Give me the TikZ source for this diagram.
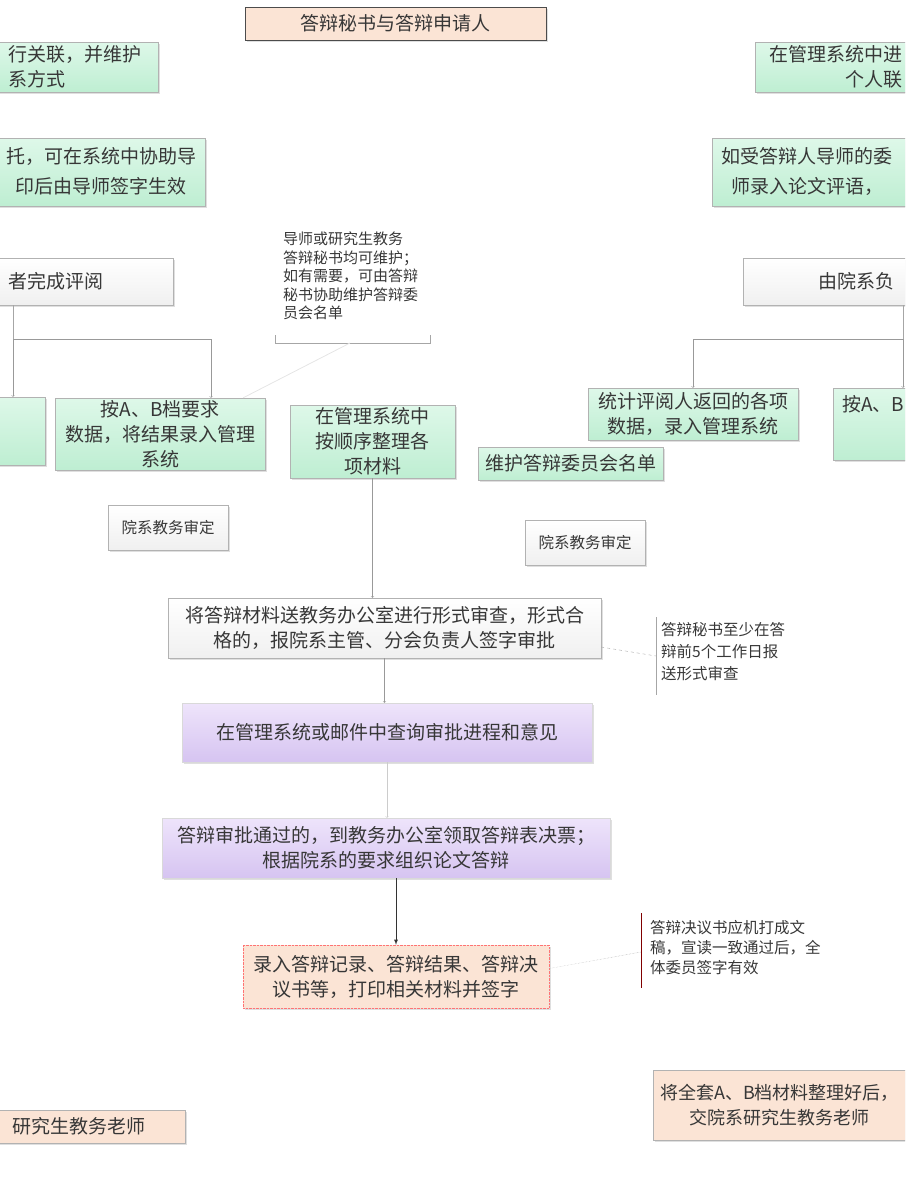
\documentclass[tikz,border=0pt]{standalone}
\usepackage{fontspec}
\newfontfamily\cjk{Noto Sans CJK SC}
\usetikzlibrary{shadows}

\definecolor{peach}{RGB}{251,228,213}
\definecolor{mintlight}{RGB}{222,248,233}
\definecolor{mint}{RGB}{190,238,210}
\definecolor{lilac}{RGB}{238,228,251}
\definecolor{lilacdark}{RGB}{214,196,241}
\definecolor{txt}{RGB}{55,55,55}

\tikzset{
    box/.style={draw=gray!60, text=txt, align=center, inner sep=2pt,
        font=\cjk\fontsize{19}{25}\selectfont,
        drop shadow={opacity=0.25, shadow xshift=2pt, shadow yshift=-2pt}},
    peachbox/.style={box, fill=peach},
    greenbox/.style={box, top color=mintlight, bottom color=mint},
    whitebox/.style={box, top color=white, bottom color=gray!12},
    lilacbox/.style={box, draw=gray!30, top color=lilac, bottom color=lilacdark},
    sidetext/.style={text=txt, inner sep=0pt, font=\cjk\fontsize{19}{25}\selectfont},
    notetext/.style={text=txt, align=left, anchor=north west, inner sep=0pt},
    arr/.style={->, draw=gray!80},
    link/.style={draw=gray!70}
}

\begin{document}
\begin{tikzpicture}[x=1pt, y=-1pt]
            \useasboundingbox (0, 0) rectangle (905, 1194);
            \clip (0, 0) rectangle (905, 1194);

            % top
            \node[peachbox, draw=black!70, minimum width=301, minimum height=33] (apply) at (395.5, 23.5) {答辩秘书与答辩申请人};
            \node[greenbox, minimum width=298, minimum height=50] (linkL) at (9, 67) {};
            \node[sidetext, anchor=west, align=left] (linkLt) at (8, 67) {行关联，并维护\\系方式};
            \node[greenbox, minimum width=298, minimum height=50] (linkR) at (904, 67) {};
            \node[sidetext, anchor=east, align=right] (linkRt) at (903, 67) {在管理系统中进\\个人联};
            \node[greenbox, minimum width=390, minimum height=68] (helpL) at (10, 172) {};
            \node[sidetext, align=center, font=\cjk\fontsize{19}{30}\selectfont] (helpLt) at (101, 171) {托，可在系统中协助导\\印后由导师签字生效};
            \node[greenbox, minimum width=390, minimum height=68] (helpR) at (907, 172) {};
            \node[sidetext, align=center, font=\cjk\fontsize{19}{30}\selectfont] (helpRt) at (807, 171) {如受答辩人导师的委\\师录入论文评语，};

            % review
            \node[whitebox, minimum width=320, minimum height=47] (revL) at (13, 281.5) {};
            \node[sidetext, anchor=west] (revLt) at (8, 281.5) {者完成评阅};
            \node[whitebox, minimum width=320, minimum height=47] (revR) at (903, 281.5) {};
            \node[sidetext, anchor=west] (revRt) at (818, 281.5) {由院系负};

            \node[notetext, font=\cjk\fontsize{15}{18.5}\selectfont] (noteC) at (283, 232) {导师或研究生教务\\答辩秘书均可维护；\\如有需要，可由答辩\\秘书协助维护答辩委\\员会名单};
            \draw[link] (275, 335) -- (275, 343) -- (430, 343) -- (430, 335);
            \coordinate (brkC) at (350, 343);

            % materials
            \node[greenbox, minimum width=205, minimum height=68] (statL) at (-57.5, 431) {};
            \node[greenbox, minimum width=210, minimum height=72] (gradeL) at (160, 434) {按A、B档要求\\数据，将结果录入管理\\系统};
            \node[greenbox, minimum width=165, minimum height=73] (sort) at (372.5, 441.5) {在管理系统中\\按顺序整理各\\项材料};
            \node[greenbox, minimum width=185, minimum height=33] (board) at (570.5, 463.5) {维护答辩委员会名单};
            \node[greenbox, minimum width=210, minimum height=52] (statR) at (693, 414) {统计评阅人返回的各项\\数据，录入管理系统};
            \node[greenbox, minimum width=210, minimum height=72] (gradeR) at (938, 424) {};
            \node[sidetext, anchor=west] (gradeRt) at (842, 404) {按A、B};

            \draw[link] (revL.south) -- ++(0, 34) coordinate (jL);
            \draw[arr] (jL) -- (jL |- statL.north);
            \draw[arr] (jL) -| ([xshift=51pt]gradeL.north);
            \draw[link] (revR.south) -- ++(0, 34) coordinate (jR);
            \draw[arr] (jR) -| (statR.north);
            \draw[arr] (jR) -- (jR |- gradeR.north);
            \draw[link, thick, draw=gray!20] (brkC) -- ([xshift=-22pt]gradeL.north east);

            \node[whitebox, font=\cjk\fontsize{15.5}{19}\selectfont, minimum width=120, minimum height=45] (checkL) at (168, 527.5) {院系教务审定};
            \node[whitebox, font=\cjk\fontsize{15.5}{19}\selectfont, minimum width=120, minimum height=45] (checkR) at (585, 542.5) {院系教务审定};

            % formal review
            \node[whitebox, minimum width=433, minimum height=60] (formal) at (384.5, 628) {将答辩材料送教务办公室进行形式审查，形式合\\格的，报院系主管、分会负责人签字审批};
            \draw[arr] (sort.south) -- (sort.south |- formal.north);

            \node[notetext, font=\cjk\fontsize{15.5}{22}\selectfont] (noteF) at (661, 622) {答辩秘书至少在答\\辩前5个工作日报\\送形式审查};
            \draw[link] (656, 617) -- (656, 695);
            \coordinate (brkF) at (656, 656);
            \draw[link, dashed] ([yshift=-19pt]formal.east) -- (brkF);

            \node[lilacbox, minimum width=410, minimum height=59] (query) at (387, 732.5) {在管理系统或邮件中查询审批进程和意见};
            \draw[arr] (formal.south) -- (formal.south |- query.north);

            \node[lilacbox, minimum width=448, minimum height=60] (ballot) at (386, 848) {答辩审批通过的，到教务办公室领取答辩表决票；\\根据院系的要求组织论文答辩};
            \draw[arr, draw=gray!40] (query.south) -- (query.south |- ballot.north);

            % defence
            \node[peachbox, draw=red!55, densely dotted, minimum width=306, minimum height=63] (record) at (396, 976.5) {录入答辩记录、答辩结果、答辩决\\议书等，打印相关材料并签字};
            \draw[-latex, thick, draw=black!80] (ballot.south -| record.north) -- (record.north);

            \node[notetext, font=\cjk\fontsize{15.5}{20}\selectfont] (noteR) at (650, 920) {答辩决议书应机打成文\\稿，宣读一致通过后，全\\体委员签字有效};
            \draw[link, draw=red!50!black] (641, 913) -- (641, 988);
            \coordinate (brkR) at (641, 952);
            \draw[link, densely dotted] ([yshift=8pt]record.east) -- (brkR);

            % archive
            \node[peachbox, minimum width=272, minimum height=70] (archR) at (789, 1105) {};
            \node[sidetext, anchor=west, align=center, font=\cjk\fontsize{18}{25}\selectfont] (archRt) at (660, 1105) {将全套A、B档材料整理好后，\\交院系研究生教务老师};
            \node[peachbox, minimum width=521, minimum height=33] (archL) at (-75.5, 1126.5) {};
            \node[sidetext, anchor=east] (archLt) at (146, 1126.5) {研究生教务老师};
        \end{tikzpicture}
\end{document}
